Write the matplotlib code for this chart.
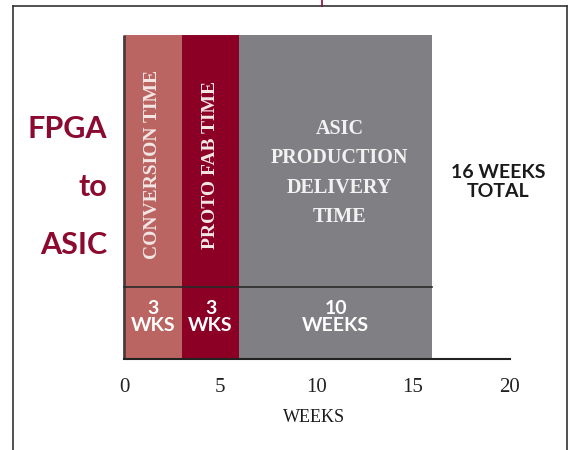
import matplotlib.pyplot as plt
from matplotlib.lines import Line2D

# phases of the FPGA -> ASIC conversion, in weeks
phases = ["CONVERSION TIME", "PROTO FAB TIME", "ASIC\nPRODUCTION\nDELIVERY\nTIME"]
weeks = [3, 3, 10]
week_labels = ["3\nWKS", "3\nWKS", "10\nWEEKS"]
colors = ["#BA6561", "#8C0026", "#808084"]
rotations = [90, 90, 0]
xticks = [0, 5, 10, 15, 20]

W, H = 569, 450
fig = plt.figure(figsize=(W / 100, H / 100), dpi=100)

# axes placed in pixel terms: bars from y=35 to y=359, x axis 118..510
ax = fig.add_axes([118 / W, 1 - 359 / H, 392 / W, 324 / H])
ax.set_xlim(-0.31, 20.05)
ax.set_ylim(0, 1)

split = 0.222  # the line that separates the names from the durations
left = 0
for name, w, lab, c, rot in zip(phases, weeks, week_labels, colors, rotations):
    ax.bar(left, 1, width=w, align="edge", color=c, linewidth=0)
    mid = left + w / 2
    if rot == 90:
        ax.text(mid, 0.6, name, rotation=90, ha="center", va="center",
                color="#F4E6E6", fontsize=14, fontweight="bold",
                family="Liberation Serif")
    else:
        ax.text(mid + 0.2, 0.574, name, ha="center", va="center",
                color="#F2F2F2", fontsize=14.5, fontweight="bold",
                family="Liberation Serif", linespacing=1.62)
    ax.text(mid, 0.13, lab, ha="center", va="center", color="white",
            fontsize=14, fontweight="bold", family="Lato", linespacing=1.0)
    left += w

# outline round the first two bars
ax.plot([0, 0], [0, 1], color="#4A3A3E", lw=2, solid_capstyle="butt")
ax.plot([0, 6], [1.004, 1.004], color="#A8A8A8", lw=1.5)
ax.plot([0, 16.0], [split, split], color="#2A2A2A", lw=1.2)
ax.plot([0, 20.05], [0, 0], color="#222222", lw=1.5, clip_on=False)

for s in ax.spines.values():
    s.set_visible(False)
ax.set_yticks([])
ax.set_xticks(xticks)
ax.tick_params(axis="x", length=0, pad=14, labelsize=15)
for t in ax.get_xticklabels():
    t.set_family("Liberation Serif")
    t.set_color("#222222")
ax.set_xlabel("WEEKS", family="Liberation Serif", fontsize=13,
              color="#1A1A1A", labelpad=8)

# side titles
fig.text(107 / W, 1 - 187 / H, "FPGA\n\nto\n\nASIC", ha="right", va="center",
         color="#8C0A2F", fontsize=22, fontweight="bold", family="Lato",
         linespacing=1.05)
fig.text(498 / W, 1 - 182 / H, "16 WEEKS\nTOTAL", ha="center", va="center",
         color="#1A1A1A", fontsize=14, fontweight="bold", family="Lato",
         linespacing=1.08)

# page frame
fig.add_artist(Line2D([13 / W, 13 / W], [0, 1 - 6 / H], color="#333333", lw=1.2))
fig.add_artist(Line2D([13 / W, 567 / W], [1 - 6 / H, 1 - 6 / H], color="#333333", lw=1.2))
fig.add_artist(Line2D([567 / W, 567 / W], [0, 1 - 6 / H], color="#333333", lw=1.2))
fig.add_artist(Line2D([322 / W, 322 / W], [1 - 6 / H, 1], color="#8C0A2F", lw=1.2))

fig.savefig("out.png", dpi=100)
